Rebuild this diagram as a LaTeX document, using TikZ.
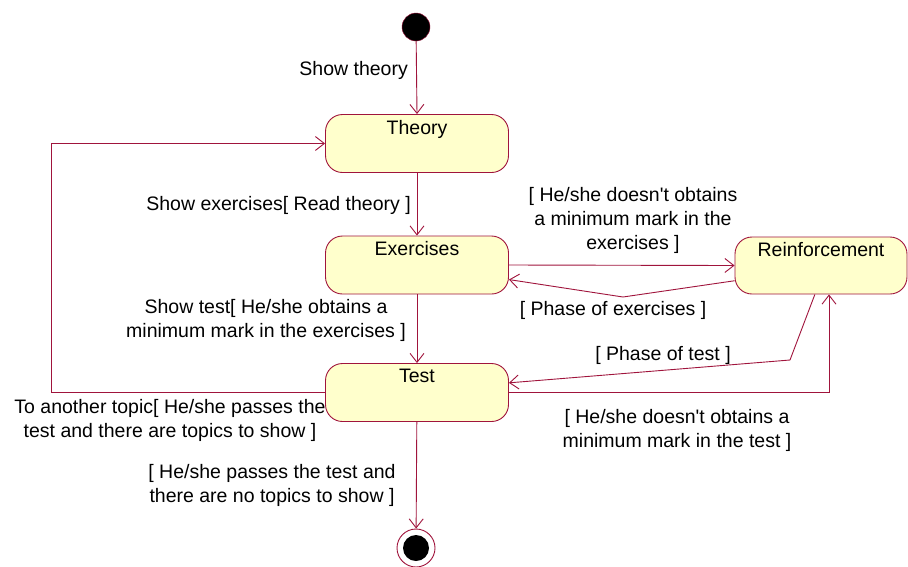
\documentclass[tikz,border=0pt]{standalone}
\usepackage{fontspec}
\setmainfont{Liberation Sans}
\usetikzlibrary{arrows.meta}
\definecolor{wire}{RGB}{160,20,60}
\definecolor{statefill}{RGB}{255,255,204}
\tikzset{
	state/.style={draw=wire, fill=statefill, rounded corners=17pt, line width=0.9pt,
		minimum width=183pt, minimum height=58pt, inner sep=0pt},
	flow/.style={draw=wire, line width=0.9pt, -{Straight Barb[length=9pt,width=14pt]}},
	txt/.style={font=\fontsize{19.5}{24}\selectfont, align=center, inner sep=0pt}
}
\begin{document}
\begin{tikzpicture}[x=1pt, y=-1pt]
	\useasboundingbox[fill=white] (0,0) rectangle (908,566);
	% start and end points
	\node[circle, fill=black, draw=wire, minimum size=28pt, inner sep=0pt] (start) at (416,27) {};
	\node[circle, fill=white, draw=wire, line width=0.9pt, minimum size=38pt, inner sep=0pt] (stop) at (416,548) {};
	\fill[black] (stop.center) circle (13pt);
	% states
	\node[state, label={[txt, anchor=north, yshift=-6pt]north:Theory}] (theory) at (417,143.5) {};
	\node[state, label={[txt, anchor=north, yshift=-6pt]north:Exercises}] (exercises) at (417,265) {};
	\node[state, minimum width=172pt, minimum height=57pt,
		label={[txt, anchor=north, yshift=-6pt]north:Reinforcement}] (reinf) at (821,265.5) {};
	\node[state, label={[txt, anchor=north, yshift=-6pt]north:Test}] (test) at (417,392.5) {};
	% main line
	\draw[flow] (start) -- (theory.north);
	\node[txt, anchor=east] (lshowth) at (408,70) {Show theory};
	\draw[flow] (theory) -- (exercises);
	\node[txt, anchor=east] (lshowex) at (411,205) {Show exercises[ Read theory ]};
	\draw[flow] (exercises) -- (test);
	\node[txt] (lshowtest) at (266,320) {Show test[ He/she obtains a\\minimum mark in the exercises ]};
	\draw[flow] (test) -- (stop);
	\node[txt] (lend) at (272,485) {[ He/she passes the test and\\there are no topics to show ]};
	% back to theory
	\coordinate (loop) at (51,392.5);
	\draw[flow] (test.west) -- (loop) |- (theory.west);
	\node[txt] (lnext) at (170,420) {To another topic[ He/she passes the\\test and there are topics to show ]};
	% reinforcement
	\draw[flow] (exercises.east) -- (reinf.west);
	\node[txt] (lnotex) at (633,220) {[ He/she doesn\textquotesingle t obtains\\a minimum mark in the\\exercises ]};
	\coordinate (exbend) at (623,297);
	\draw[flow] (reinf.190) -- (exbend) -- (exercises.-9);
	\node[txt] (lphaseex) at (613,310) {[ Phase of exercises ]};
	\coordinate (testbend) at (790,360);
	\draw[flow] (reinf.258) -- (testbend) -- (test.6);
	\node[txt] (lphasetest) at (663,355) {[ Phase of test ]};
	\draw[flow] (test.east) -| ([xshift=8pt]reinf.south);
	\node[txt] (lnottest) at (677,430) {[ He/she doesn\textquotesingle t obtains a\\minimum mark in the test ]};
\end{tikzpicture}
\end{document}
